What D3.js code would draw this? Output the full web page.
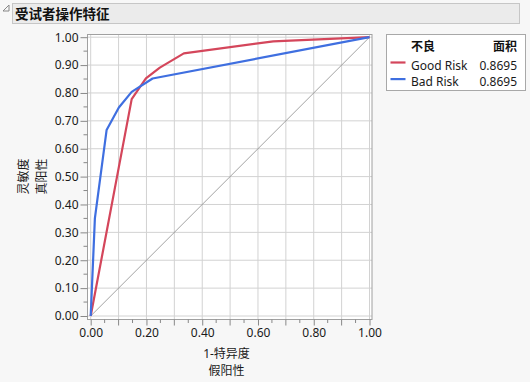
<!DOCTYPE html>
<html><head><meta charset="utf-8">
<script src="https://cdn.jsdelivr.net/npm/d3@7"></script>
<style>
body{margin:0;background:#f7f7f7;}
svg text{font-family:"Noto Sans","Noto Sans CJK SC",sans-serif;}
</style></head>
<body><svg id="c" width="530" height="382"></svg>
<script>
const title = "受试者操作特征";
const xLabel = ["1-特异度","假阳性"];
const yLabel = ["灵敏度","真阳性"];
const ticks = [0,0.1,0.2,0.3,0.4,0.5,0.6,0.7,0.8,0.9,1.0];
const xTickLabels = [0,0.2,0.4,0.6,0.8,1.0];
const seriesNames = ["Good Risk","Bad Risk"];
const areas = ["0.8695","0.8695"];
const legendHeader = ["不良","面积"];
const goodX = [0, 0.147, 0.198, 0.248, 0.334, 0.655, 1];
const goodY = [0, 0.778, 0.852, 0.891, 0.942, 0.985, 1];
const badX = [0, 0.015, 0.057, 0.101, 0.147, 0.222, 1];
const badY = [0, 0.35, 0.667, 0.748, 0.804, 0.852, 1];
const colors = ["#d4465b","#3f6fe0"];

const svg = d3.select("#c");
// title bar
svg.append("rect").attr("x",12.5).attr("y",3.5).attr("width",507).attr("height",20).attr("fill","#ebebeb").attr("stroke","#c6c6c6");
svg.append("path").attr("d","M3,11 L9,5 L9,11 Z").attr("fill","none").attr("stroke","#888");
svg.append("text").attr("x",15).attr("y",18.5).attr("font-size",13.5).attr("font-weight","bold").attr("fill","#111").text(title);

const x = d3.scaleLinear().domain([0,1]).range([90.7,369.5]);
const y = d3.scaleLinear().domain([0,1]).range([316,37.2]);
const fl=87.5, fr=372, ft=34.5, fb=319.5;
svg.append("rect").attr("x",fl).attr("y",ft).attr("width",fr-fl).attr("height",fb-ft).attr("fill","#fff");
const g = svg.append("g");
ticks.forEach(t=>{
  g.append("line").attr("x1",x(t)).attr("x2",x(t)).attr("y1",ft).attr("y2",fb).attr("stroke","#d2d2d2");
  g.append("line").attr("y1",y(t)).attr("y2",y(t)).attr("x1",fl).attr("x2",fr).attr("stroke","#d2d2d2");
});
// diagonal
g.append("line").attr("x1",x(0)).attr("y1",y(0)).attr("x2",x(1)).attr("y2",y(1)).attr("stroke","#8a8a8a").attr("stroke-width",0.8);
svg.append("rect").attr("x",fl).attr("y",ft).attr("width",fr-fl).attr("height",fb-ft).attr("fill","none").attr("stroke","#a0a0a0").attr("stroke-width",1);

// axes
const yAxis = d3.axisLeft(y).tickValues(ticks).tickFormat(d3.format(".2f")).tickSize(7).tickPadding(2);
const ya = svg.append("g").attr("transform",`translate(${fl},0)`).call(yAxis);
const xAxis = d3.axisBottom(x).tickValues(xTickLabels).tickFormat(d3.format(".2f")).tickSize(6).tickPadding(3);
const xa = svg.append("g").attr("transform",`translate(0,${fb})`).call(xAxis);
[ya,xa].forEach(a=>{a.select(".domain").remove();a.selectAll("line").attr("stroke","#888");a.selectAll("text").attr("font-size",12).attr("fill","#1a1a1a");});
// minor ticks
const minors = d3.range(0,1.0001,0.05);
minors.forEach(m=>{
  if(!ticks.some(t=>Math.abs(t-m)<1e-6)) svg.append("line").attr("x1",fl-4).attr("x2",fl).attr("y1",y(m)).attr("y2",y(m)).attr("stroke","#888");
  if(!xTickLabels.some(t=>Math.abs(t-m)<1e-6)){
    const major = ticks.some(t=>Math.abs(t-m)<1e-6);
    svg.append("line").attr("y1",fb).attr("y2",fb+(major?6:3.5)).attr("x1",x(m)).attr("x2",x(m)).attr("stroke","#888");
  }
});

// lines
const line = d3.line().x(d=>x(d[0])).y(d=>y(d[1]));
[[goodX,goodY],[badX,badY]].forEach((s,i)=>{
  svg.append("path").datum(s[0].map((v,j)=>[v,s[1][j]])).attr("d",line).attr("fill","none").attr("stroke",colors[i]).attr("stroke-width",2.2).attr("stroke-linejoin","round");
});

// axis labels
svg.append("text").attr("x",226.5).attr("y",357.5).attr("text-anchor","middle").attr("font-size",12).attr("fill","#1a1a1a").text(xLabel[0]);
svg.append("text").attr("x",226.5).attr("y",375).attr("text-anchor","middle").attr("font-size",12).attr("fill","#1a1a1a").text(xLabel[1]);
svg.append("text").attr("transform","translate(28,176.5) rotate(-90)").attr("text-anchor","middle").attr("font-size",12).attr("fill","#1a1a1a").text(yLabel[0]);
svg.append("text").attr("transform","translate(46,176.5) rotate(-90)").attr("text-anchor","middle").attr("font-size",12).attr("fill","#1a1a1a").text(yLabel[1]);

// legend
svg.append("rect").attr("x",386.5).attr("y",34.5).attr("width",139).attr("height",56).attr("fill","#fff").attr("stroke","#a8a8a8");
svg.append("text").attr("x",411).attr("y",51).attr("font-size",12).attr("font-weight","bold").attr("fill","#111").text(legendHeader[0]);
svg.append("text").attr("x",517).attr("y",51).attr("text-anchor","end").attr("font-size",12).attr("font-weight","bold").attr("fill","#111").text(legendHeader[1]);
seriesNames.forEach((n,i)=>{
  const cy = 65.5 + i*16.6;
  svg.append("line").attr("x1",390.5).attr("x2",405.5).attr("y1",cy-3).attr("y2",cy-3).attr("stroke",colors[i]).attr("stroke-width",2.2);
  svg.append("text").attr("x",411).attr("y",cy+4).attr("font-size",12).attr("fill","#1a1a1a").text(n);
  svg.append("text").attr("x",517).attr("y",cy+4).attr("text-anchor","end").attr("font-size",12).attr("fill","#1a1a1a").text(areas[i]);
});
</script></body></html>
